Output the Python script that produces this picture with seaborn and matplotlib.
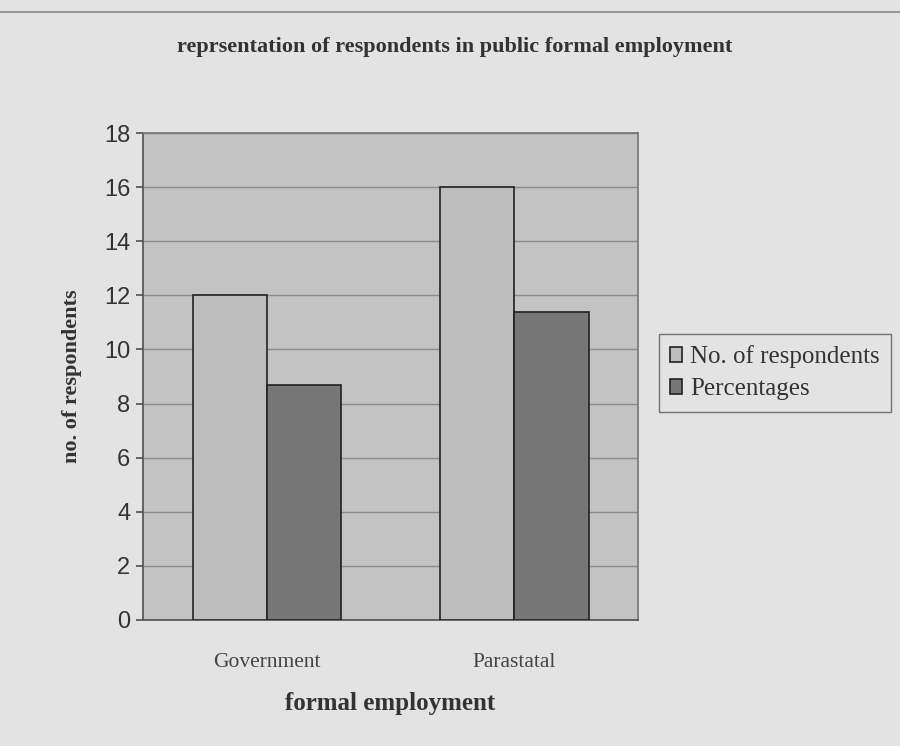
import pandas as pd
import matplotlib.pyplot as plt
import seaborn as sns

# values
categories = ['Government', 'Parastatal']
respondents = [12, 16]
percentages = [8.7, 11.4]
series_names = ['No. of respondents', 'Percentages']

df = pd.DataFrame({
    'employment': categories * 2,
    'series': [series_names[0]] * 2 + [series_names[1]] * 2,
    'value': respondents + percentages,
})

sns.set_theme(style='white')
plt.rcParams['font.family'] = ['Liberation Serif', 'DejaVu Serif']

fig = plt.figure(figsize=(9, 7.46), dpi=100)
fig.patch.set_facecolor('#e3e3e3')
ax = fig.add_axes([143 / 900, 1 - 620 / 746, 495 / 900, 487 / 746])
ax.set_facecolor('#c3c3c3')

sns.barplot(
    data=df, x='employment', y='value', hue='series',
    palette=['#bdbdbd', '#777777'], edgecolor='#222222', linewidth=1.2,
    width=0.6, gap=0, ax=ax, zorder=3,
)

ax.set_ylim(0, 18)
ax.set_yticks(range(0, 19, 2))
ax.yaxis.grid(True, color='#8a8a8a', linewidth=1.0, zorder=0)
ax.set_axisbelow(True)
for s in ['top', 'right']:
    ax.spines[s].set_color('#777777')
for s in ['left', 'bottom']:
    ax.spines[s].set_color('#555555')
ax.tick_params(axis='y', which='both', left=True, length=5, color='#555555', pad=4)
ax.tick_params(axis='x', bottom=False, pad=18)
for lbl in ax.get_yticklabels():
    lbl.set_fontfamily(['Liberation Sans', 'DejaVu Sans'])
    lbl.set_fontsize(17)
    lbl.set_color('#333333')
for lbl in ax.get_xticklabels():
    lbl.set_fontsize(15.5)
    lbl.set_color('#444444')

ax.set_xlabel('formal employment', fontsize=18, fontweight='bold', color='#333333', labelpad=14)
ax.set_ylabel('no. of respondents', fontsize=16, fontweight='bold', color='#333333', labelpad=16)

fig.text(455 / 900, 1 - 47 / 746, 'reprsentation of respondents in public formal employment',
         ha='center', va='center', fontsize=16, fontweight='bold', color='#333333')
fig.add_artist(plt.Line2D([0, 1], [1 - 12 / 746, 1 - 12 / 746], color='#9a9a9a', linewidth=1.5))

leg = ax.legend(loc='center left', bbox_to_anchor=(646 / 900, 1 - 373 / 746),
                bbox_transform=fig.transFigure, frameon=True, fancybox=False,
                fontsize=18, handlelength=0.5, handleheight=0.5, handletextpad=0.3,
                borderpad=0.45, labelspacing=0.4, title=None)
leg.get_frame().set_edgecolor('#555555')
leg.get_frame().set_facecolor('#e3e3e3')
for t in leg.get_texts():
    t.set_color('#333333')

fig.savefig('out.png', dpi=100, facecolor=fig.get_facecolor())
